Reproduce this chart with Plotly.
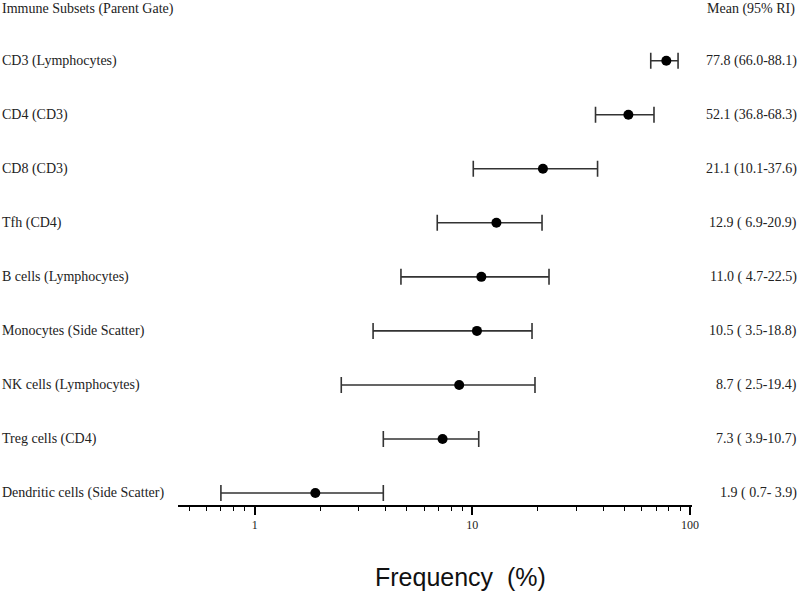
import plotly.graph_objects as go

subsets = ["CD3 (Lymphocytes)", "CD4 (CD3)", "CD8 (CD3)", "Tfh (CD4)", "B cells (Lymphocytes)",
           "Monocytes (Side Scatter)", "NK cells (Lymphocytes)", "Treg cells (CD4)",
           "Dendritic cells (Side Scatter)"]
means = [77.8, 52.1, 21.1, 12.9, 11.0, 10.5, 8.7, 7.3, 1.9]
lows = [66.0, 36.8, 10.1, 6.9, 4.7, 3.5, 2.5, 3.9, 0.7]
highs = [88.1, 68.3, 37.6, 20.9, 22.5, 18.8, 19.4, 10.7, 3.9]
ri_labels = ["77.8 (66.0-88.1)", "52.1 (36.8-68.3)", "21.1 (10.1-37.6)", "12.9 ( 6.9-20.9)",
             "11.0 ( 4.7-22.5)", "10.5 ( 3.5-18.8)", "8.7 ( 2.5-19.4)", "7.3 ( 3.9-10.7)",
             "1.9 ( 0.7- 3.9)"]
tick_vals = [1, 10, 100]
tick_text = ["1", "10", "100"]

ypos = [-i for i in range(len(subsets))]
serif = "Liberation Serif, Times New Roman, serif"
txt_col = "#222222"
fs = 14

fig = go.Figure()
fig.add_trace(go.Scatter(
    x=means, y=ypos, mode="markers",
    marker=dict(color="black", size=10),
    error_x=dict(type="data", symmetric=False,
                 array=[h - m for h, m in zip(highs, means)],
                 arrayminus=[m - l for m, l in zip(means, lows)],
                 color="#333333", thickness=1.6, width=8),
    showlegend=False, cliponaxis=False,
))

ann = []
L, W = 178, 514
for s, y, r in zip(subsets, ypos, ri_labels):
    ann.append(dict(text=s, x=(0 - L) / W, xref="paper", y=y, yref="y", xanchor="left",
                    yanchor="middle", showarrow=False, font=dict(family=serif, size=fs, color=txt_col)))
    ann.append(dict(text=r, x=(799 - L) / W, xref="paper", y=y, yref="y", xanchor="right",
                    yanchor="middle", showarrow=False, font=dict(family=serif, size=fs, color=txt_col)))
ann.append(dict(text="Immune Subsets (Parent Gate)", x=(0 - L) / W, xref="paper", y=0.96, yref="y",
                xanchor="left", yanchor="middle", showarrow=False,
                font=dict(family=serif, size=fs, color=txt_col)))
ann.append(dict(text="Mean (95% RI)", x=(797 - L) / W, xref="paper", y=0.96, yref="y",
                xanchor="right", yanchor="middle", showarrow=False,
                font=dict(family=serif, size=fs, color=txt_col)))
ann.append(dict(text="Frequency&nbsp;&nbsp;(%)", x=(460 - L) / W, xref="paper", y=-72 / 505, yref="paper",
                xanchor="center", yanchor="middle", showarrow=False,
                font=dict(family="Liberation Sans, Arial, sans-serif", size=25, color="#111111")))

fig.update_layout(
    width=800, height=591,
    margin=dict(l=178, r=108, t=0, b=86),
    paper_bgcolor="white", plot_bgcolor="white",
    annotations=ann,
    xaxis=dict(type="log", range=[-0.352, 2.009], showline=True, linecolor="black", linewidth=1.5,
               showgrid=False, zeroline=False, ticks="outside", ticklen=8, tickwidth=1.5,
               tickcolor="black", tickvals=tick_vals, ticktext=tick_text,
               tickfont=dict(family=serif, size=12, color=txt_col),
               minor=dict(ticks="outside", ticklen=4, tickwidth=1.2, tickcolor="black",
                          dtick="D1", showgrid=False)),
    yaxis=dict(range=[-8.2218, 1.1232], visible=False, showgrid=False, zeroline=False),
)

fig.write_html("out.html", config={"displayModeBar": False},
               post_script="document.body.style.margin='0';document.body.style.overflow='hidden';")
